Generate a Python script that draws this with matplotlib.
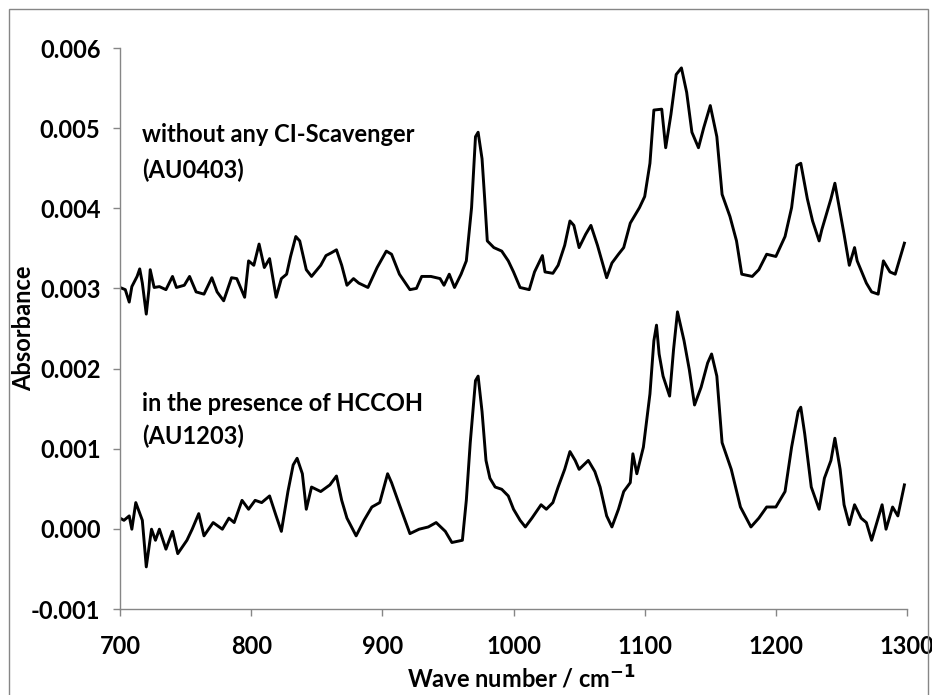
import matplotlib
matplotlib.use('Agg')
import matplotlib.pyplot as plt
from matplotlib.patches import Rectangle

plt.rcParams['font.family'] = ['Lato', 'DejaVu Sans']
plt.rcParams['font.weight'] = 'bold'
plt.rcParams['axes.unicode_minus'] = False

# spectrum without scavenger (AU0403) (absorbance x 1000)
wn_top = [700, 704, 707, 709, 713, 715, 717, 720, 722, 723, 726, 730, 735, 740, 743, 749, 753, 758, 764, 770,
          774, 779, 785, 789, 795, 798, 802, 806, 810, 814, 819, 823, 827, 830, 834, 837, 842, 846, 853, 857,
          861, 865, 869, 873, 878, 882, 889, 896, 903, 907, 913, 921, 926, 930, 937, 944, 947, 951, 955, 960,
          964, 968, 971, 973, 976, 978, 980, 985, 991, 996, 1000, 1005, 1012, 1016, 1022, 1024, 1030, 1034, 1039, 1043,
          1046, 1050, 1055, 1059, 1064, 1071, 1075, 1080, 1084, 1089, 1096, 1100, 1104, 1107, 1113, 1116, 1120, 1124, 1128, 1132,
          1136, 1141, 1145, 1150, 1155, 1159, 1165, 1170, 1174, 1182, 1187, 1193, 1200, 1207, 1212, 1216, 1219, 1224, 1228, 1233,
          1235, 1242, 1245, 1249, 1252, 1256, 1260, 1262, 1269, 1273, 1278, 1282, 1287, 1291, 1298]
abs_top = [3.012, 2.985, 2.830, 3.023, 3.150, 3.244, 3.067, 2.680, 2.985, 3.234, 3.012, 3.023, 2.985, 3.150, 3.012, 3.040, 3.150, 2.957, 2.929, 3.134,
           2.957, 2.846, 3.134, 3.123, 2.890, 3.344, 3.289, 3.554, 3.261, 3.372, 2.890, 3.123, 3.178, 3.399, 3.648, 3.593, 3.234, 3.150, 3.289, 3.410,
           3.444, 3.482, 3.289, 3.040, 3.123, 3.067, 3.012, 3.261, 3.466, 3.427, 3.178, 2.985, 3.001, 3.150, 3.150, 3.123, 3.040, 3.178, 3.012, 3.178,
           3.344, 4.008, 4.894, 4.949, 4.617, 4.119, 3.593, 3.510, 3.466, 3.344, 3.206, 3.012, 2.985, 3.206, 3.410, 3.206, 3.189, 3.289, 3.538, 3.842,
           3.787, 3.510, 3.676, 3.787, 3.538, 3.134, 3.317, 3.427, 3.510, 3.815, 4.008, 4.147, 4.562, 5.226, 5.237, 4.756, 5.171, 5.669, 5.752, 5.447,
           4.949, 4.756, 5.005, 5.282, 4.894, 4.174, 3.898, 3.593, 3.178, 3.150, 3.234, 3.427, 3.399, 3.648, 4.008, 4.534, 4.562, 4.119, 3.842, 3.593,
           3.731, 4.119, 4.313, 3.953, 3.676, 3.289, 3.510, 3.344, 3.067, 2.957, 2.929, 3.344, 3.206, 3.178, 3.565]

# spectrum with HCCOH (AU1203)
wn_bot = [700, 703, 707, 709, 712, 717, 720, 724, 727, 730, 735, 740, 744, 751, 755, 760, 764, 771, 778, 783,
          787, 793, 798, 803, 808, 814, 819, 823, 828, 832, 835, 839, 842, 846, 853, 860, 865, 869, 873, 880,
          886, 892, 898, 904, 907, 913, 921, 928, 935, 941, 948, 953, 961, 964, 967, 971, 973, 976, 979, 982,
          986, 991, 996, 1000, 1005, 1009, 1014, 1021, 1025, 1030, 1034, 1039, 1043, 1047, 1050, 1057, 1062, 1066, 1071, 1075,
          1080, 1084, 1089, 1091, 1094, 1099, 1104, 1107, 1109, 1111, 1114, 1119, 1122, 1125, 1130, 1134, 1138, 1143, 1148, 1151,
          1155, 1159, 1166, 1173, 1181, 1187, 1193, 1200, 1207, 1212, 1217, 1219, 1222, 1227, 1233, 1237, 1242, 1245, 1249, 1252,
          1256, 1260, 1265, 1269, 1273, 1277, 1281, 1284, 1289, 1293, 1298]
abs_bot = [0.134, 0.107, 0.162, -0.004, 0.328, 0.107, -0.474, -0.004, -0.142, -0.004, -0.253, -0.031, -0.309, -0.142, -0.004, 0.190, -0.087, 0.079, -0.004, 0.134,
           0.079, 0.356, 0.245, 0.356, 0.328, 0.411, 0.162, -0.031, 0.466, 0.798, 0.881, 0.688, 0.245, 0.522, 0.466, 0.549, 0.660, 0.356, 0.134, -0.087,
           0.107, 0.273, 0.328, 0.688, 0.577, 0.301, -0.059, -0.004, 0.024, 0.079, -0.031, -0.170, -0.142, 0.356, 1.076, 1.850, 1.906, 1.463, 0.854, 0.632,
           0.522, 0.494, 0.411, 0.245, 0.107, 0.024, 0.134, 0.301, 0.245, 0.328, 0.522, 0.743, 0.965, 0.854, 0.743, 0.854, 0.715, 0.522, 0.162, 0.024,
           0.245, 0.466, 0.577, 0.937, 0.688, 1.020, 1.684, 2.348, 2.542, 2.182, 1.906, 1.657, 2.238, 2.708, 2.348, 1.988, 1.546, 1.767, 2.071, 2.182,
           1.906, 1.076, 0.743, 0.273, 0.024, 0.134, 0.273, 0.273, 0.466, 1.020, 1.463, 1.518, 1.186, 0.522, 0.245, 0.632, 0.854, 1.131, 0.743, 0.301,
           0.052, 0.301, 0.134, 0.079, -0.142, 0.079, 0.301, -0.004, 0.273, 0.162, 0.549]

yticks = [-0.001, 0.000, 0.001, 0.002, 0.003, 0.004, 0.005, 0.006]
xticks = [700, 800, 900, 1000, 1100, 1200, 1300]

fig = plt.figure(figsize=(9.32, 6.95), dpi=100)
ax = fig.add_axes([0.1288, 0.1237, 0.8444, 0.8072])

ax.plot(wn_top, [v / 1000 for v in abs_top], color='black', lw=2.1)
ax.plot(wn_bot, [v / 1000 for v in abs_bot], color='black', lw=2.1)

ax.set_xlim(700, 1300)
ax.set_ylim(-0.001, 0.006)
ax.set_xticks(xticks)
ax.set_yticks(yticks)
ax.set_yticklabels([f'{t:.3f}' for t in yticks])

for s in ['top', 'right']:
    ax.spines[s].set_visible(False)
for s in ['left', 'bottom']:
    ax.spines[s].set_color('#868686')
    ax.spines[s].set_linewidth(1)
ax.tick_params(axis='both', direction='out', length=5, width=1, color='#868686', labelsize=17)
ax.tick_params(axis='x', pad=14)
ax.tick_params(axis='y', pad=9)

ax.set_ylabel('Absorbance', fontsize=17, fontweight='bold')
ax.yaxis.set_label_coords(-0.108, 0.5)
ax.set_xlabel('Wave number / cm$^{\\mathbf{-1}}$', fontsize=17, fontweight='bold')
ax.xaxis.set_label_coords(0.51, -0.1)

ax.text(717, 0.00492, 'without any CI-Scavenger', fontsize=17, va='center', ha='left')
ax.text(717, 0.00448, '(AU0403)', fontsize=17, va='center', ha='left')
ax.text(717, 0.00156, 'in the presence of HCCOH', fontsize=17, va='center', ha='left')
ax.text(717, 0.00115, '(AU1203)', fontsize=17, va='center', ha='left')

# outer chart frame
fig.patches.append(Rectangle((9 / 932, -0.02), 919 / 932, 1 - 9 / 695 + 0.02, transform=fig.transFigure,
                             fill=False, edgecolor='#868686', lw=1))

fig.savefig('out.png', dpi=100)
